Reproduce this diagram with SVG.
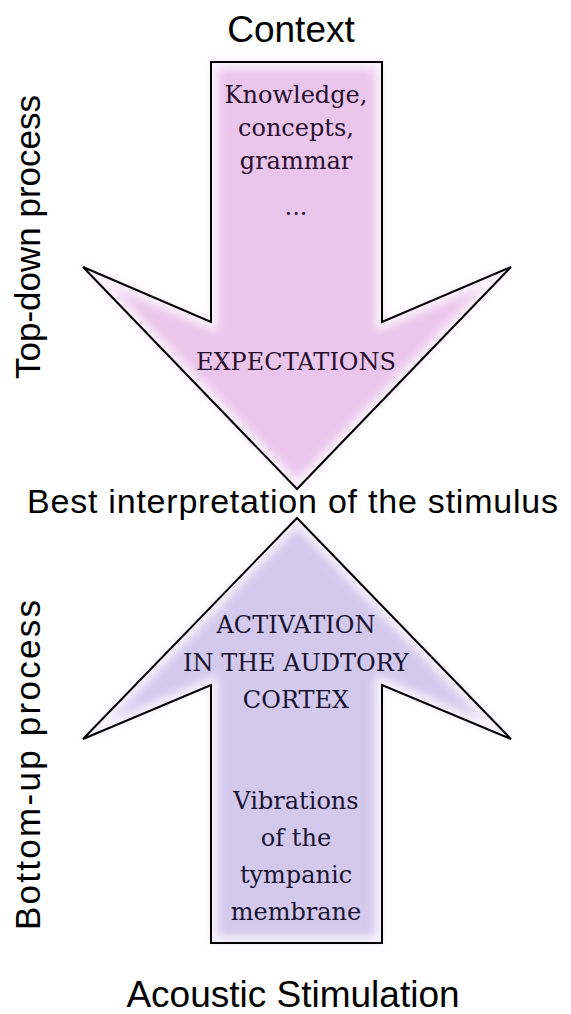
<svg xmlns="http://www.w3.org/2000/svg" width="571" height="1014" viewBox="0 0 571 1014">
<defs>
<style>
.sans{font-family:"Liberation Sans",Arial,sans-serif;fill:#000}
.ser{font-family:"DejaVu Serif","Liberation Serif",serif;font-size:24px;text-anchor:middle}
.outline{fill:none;stroke:#000;stroke-width:2;stroke-linejoin:miter}
</style>
<filter id="blur" x="-20%" y="-20%" width="140%" height="140%"><feGaussianBlur stdDeviation="5"/></filter>
<filter id="oblur" x="-20%" y="-20%" width="140%" height="140%"><feGaussianBlur stdDeviation="4"/></filter>
<clipPath id="cDown"><polygon points="211,62 382,62 382,322 511,267 297,489 83,267 211,322"/></clipPath>
<clipPath id="cUp"><polygon points="297,518 511,739 382,685 382,943 211,943 211,685 83,739"/></clipPath>
</defs>
<rect width="571" height="1014" fill="#fff"/>
<g id="down-arrow">
<polygon points="211,62 382,62 382,322 511,267 297,489 83,267 211,322" fill="#ecc8ee" opacity="0.5" filter="url(#oblur)"/>
<g clip-path="url(#cDown)">
<polygon points="211,62 382,62 382,322 511,267 297,489 83,267 211,322" fill="#eac5ec"/>
<polygon points="211,62 382,62 382,322 511,267 297,489 83,267 211,322" fill="none" stroke="#fbf2fb" stroke-width="14" filter="url(#blur)"/>
</g>
<polygon class="outline" points="211,62 382,62 382,322 511,267 297,489 83,267 211,322"/>
<g fill="#2a1030">
<text class="ser" x="296" y="103">Knowledge,</text>
<text class="ser" x="296" y="136">concepts,</text>
<text class="ser" x="296" y="169">grammar</text>
<text class="ser" x="296" y="215">...</text>
<text class="ser" x="296" y="370">EXPECTATIONS</text>
</g>
</g>
<g id="up-arrow">
<polygon points="297,518 511,739 382,685 382,943 211,943 211,685 83,739" fill="#d4cbee" opacity="0.5" filter="url(#oblur)"/>
<g clip-path="url(#cUp)">
<polygon points="297,518 511,739 382,685 382,943 211,943 211,685 83,739" fill="#d2c9ec"/>
<polygon points="297,518 511,739 382,685 382,943 211,943 211,685 83,739" fill="none" stroke="#f6f3fc" stroke-width="14" filter="url(#blur)"/>
</g>
<polygon class="outline" points="297,518 511,739 382,685 382,943 211,943 211,685 83,739"/>
<g fill="#1a1433">
<text class="ser" x="296" y="633">ACTIVATION</text>
<text class="ser" x="296" y="671">IN THE AUDTORY</text>
<text class="ser" x="296" y="708">CORTEX</text>
<text class="ser" x="296" y="809">Vibrations</text>
<text class="ser" x="296" y="846">of the</text>
<text class="ser" x="296" y="883">tympanic</text>
<text class="ser" x="296" y="920">membrane</text>
</g>
</g>
<g id="labels">
<text class="sans" x="291" y="42" font-size="37" text-anchor="middle">Context</text>
<text class="sans" x="27" y="513" font-size="34" textLength="531" lengthAdjust="spacing">Best interpretation of the stimulus</text>
<text class="sans" x="293" y="1007" font-size="37" text-anchor="middle">Acoustic Stimulation</text>
<text class="sans" font-size="35" text-anchor="middle" transform="translate(40,237) rotate(-90)">Top-down process</text>
<text class="sans" font-size="35" text-anchor="middle" textLength="330" lengthAdjust="spacing" transform="translate(40,765) rotate(-90)">Bottom-up process</text>
</g>
<g id="connectors"/>
</svg>
